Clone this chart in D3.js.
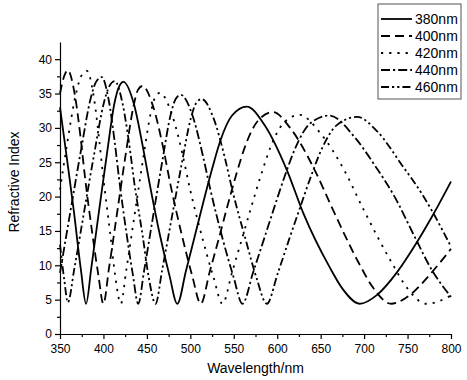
<!DOCTYPE html>
<html>
<head>
<meta charset="utf-8">
<script src="https://cdn.jsdelivr.net/npm/d3@7"></script>
<style>
  body { margin: 0; background: #fff; }
  svg { font-family: Arial, "Liberation Sans", sans-serif; }
</style>
</head>
<body>
<div id="chart"></div>
<script>
// series values: [wavelength nm, refractive index]
const s380 = [[350,33.0],[358,25.5],[366,17.8],[374,9.4],[380,4.4],[386,9.6],[395,18.0],[404,26.2],[413,33.8],[418,36.0],[423,36.7],[435,33.5],[445,27.5],[453,22.0],[465,14.4],[476,8.5],[485,4.4],[495,9.2],[505,14.2],[515,19.2],[525,24.0],[535,28.3],[548,31.8],[565,33.1],[585,30.5],[611,23.9],[630,17.6],[660,9.8],[675,6.6],[695,4.4],[715,5.7],[738,9.0],[760,13.2],[780,17.5],[800,22.2]];
const s400 = [[350,35.0],[355,37.6],[359,38.4],[366.8,35.0],[373.6,28.7],[378.7,22.9],[386.9,14.9],[394,8.7],[400,4.4],[406.3,9.5],[415.8,17.7],[425.2,25.8],[434.7,33.2],[439.6,35.5],[445,36.1],[457.7,32.9],[468.8,27.1],[477.2,21.7],[490.6,14.2],[502.3,8.4],[512,4.4],[522.4,9.1],[532.8,13.9],[543.1,18.8],[553.5,23.5],[563.9,27.6],[577.6,31.0],[595,32.3],[616,29.8],[643,23.9],[663,18.4],[694,10.3],[710,6.8],[731,4.4],[752,5.6],[776,8.7],[800,12.4]];
const s420 = [[350,21.0],[357.7,27.3],[368.8,35.2],[374.6,37.6],[381,38.3],[388.4,34.9],[394.8,28.6],[399.7,22.9],[407.5,14.9],[413.3,8.7],[420,4.4],[426.3,9.3],[435.8,17.3],[445.2,25.1],[454.7,32.3],[459.6,34.5],[465,35.1],[478.7,32.0],[490.6,26.4],[499.6,21.1],[514,13.9],[526.6,8.3],[537,4.4],[548.1,9.0],[559.3,13.8],[570.4,18.6],[581.5,23.2],[592.6,27.3],[607.3,30.7],[626,31.9],[648.5,29.4],[677.7,23.7],[699,18.2],[732.6,10.2],[749.5,6.7],[772,4.4],[800,5.6]];
const s440 = [[350,8.9],[362.6,18.3],[374.1,26.7],[385.5,34.4],[391.5,36.7],[398,37.4],[406,34.1],[412.9,28.0],[418.2,22.4],[426.6,14.6],[433.9,8.6],[440,4.4],[446.9,9.3],[457.2,17.2],[467.4,24.9],[477.7,32.1],[483.1,34.2],[489,34.8],[502.5,31.8],[514.2,26.1],[523.1,21.0],[537.3,13.8],[549.7,8.3],[560,4.4],[572.3,9.0],[584.5,13.7],[596.8,18.5],[609,23.1],[621.3,27.2],[637.4,30.6],[660,31.8],[690,28.5],[712,24.6],[735,20.0],[758,14.2],[778,9.3],[800,5.4]];
const s460 = [[350,13.0],[355,7.8],[359,4.6],[366.6,9.6],[377.9,17.9],[389.2,26.1],[400.6,33.7],[406.5,36.0],[413,36.8],[421.9,33.6],[429.7,27.6],[435.4,22.1],[445,14.4],[451.8,8.5],[460,4.4],[467.4,9.2],[478.6,16.9],[489.7,24.5],[500.8,31.5],[506.6,33.6],[513,34.2],[527.3,31.2],[539.6,25.7],[549,20.6],[564,13.6],[576.1,8.2],[588,4.4],[600.8,8.9],[613.5,13.7],[626.3,18.4],[639,23.0],[651.8,27.1],[668.6,30.4],[692,31.6],[715,29.5],[744,24.5],[766,20.5],[780,17.5],[800,12.7]];

const seriesNames = ["380nm", "400nm", "420nm", "440nm", "460nm"];
const seriesData = [s380, s400, s420, s440, s460];
const dashes = ["none", "9,5", "2.2,6", "9,3,2.2,3", "8,3,2.2,3,2.2,3"];

const xTicks = [350, 400, 450, 500, 550, 600, 650, 700, 750, 800];
const yTicks = [0, 5, 10, 15, 20, 25, 30, 35, 40];

const W = 467, H = 380;
const margin = { top: 42, right: 16, bottom: 46, left: 60 };

const svg = d3.select("#chart").append("svg")
  .attr("width", W)
  .attr("height", H);

const x = d3.scaleLinear().domain([350, 800]).range([margin.left, W - margin.right]);
const y = d3.scaleLinear().domain([0, 42.5]).range([H - margin.bottom, margin.top]);

// minor ticks
const xMinor = d3.range(375, 800, 50);
const yMinor = d3.range(2.5, 42.5, 5);

svg.append("g")
  .attr("transform", `translate(0,${y(0)})`)
  .call(d3.axisBottom(x).tickValues(xMinor).tickSize(3).tickFormat(""))
  .call(g => g.select(".domain").remove());
svg.append("g")
  .attr("transform", `translate(${x(350)},0)`)
  .call(d3.axisLeft(y).tickValues(yMinor).tickSize(3).tickFormat(""))
  .call(g => g.select(".domain").remove());

// main axes
svg.append("g")
  .attr("transform", `translate(0,${y(0)})`)
  .call(d3.axisBottom(x).tickValues(xTicks).tickSize(5).tickSizeOuter(0).tickPadding(5))
  .call(g => g.selectAll("text").style("font-size", "12px").attr("fill", "#000"));
svg.append("g")
  .attr("transform", `translate(${x(350)},0)`)
  .call(d3.axisLeft(y).tickValues(yTicks).tickSize(5).tickSizeOuter(0).tickPadding(3))
  .call(g => g.selectAll("text").style("font-size", "12px").attr("fill", "#000"));

svg.selectAll(".domain, .tick line").attr("stroke", "#000").attr("stroke-width", 1.2);

// curves
const line = d3.line()
  .x(d => x(d[0]))
  .y(d => y(d[1]))
  .curve(d3.curveMonotoneX);

seriesData.forEach((s, i) => {
  svg.append("path")
    .datum(s)
    .attr("fill", "none")
    .attr("stroke", "#000")
    .attr("stroke-width", 1.8)
    .attr("stroke-dasharray", dashes[i])
    .attr("d", line);
});

// axis titles
svg.append("text")
  .attr("x", (x(350) + x(800)) / 2)
  .attr("y", 373)
  .attr("text-anchor", "middle")
  .style("font-size", "14px")
  .text("Wavelength/nm");

svg.append("text")
  .attr("transform", "translate(19,182) rotate(-90)")
  .attr("text-anchor", "middle")
  .style("font-size", "14px")
  .text("Refractive Index");

// legend
const legend = svg.append("g");
legend.append("rect")
  .attr("x", 378).attr("y", 4)
  .attr("width", 83).attr("height", 95)
  .attr("fill", "#fff")
  .attr("stroke", "#555");

seriesNames.forEach((name, i) => {
  const ly = 19 + i * 17;
  legend.append("line")
    .attr("x1", 381).attr("x2", 412)
    .attr("y1", ly).attr("y2", ly)
    .attr("stroke", "#000")
    .attr("stroke-width", 1.8)
    .attr("stroke-dasharray", dashes[i]);
  legend.append("text")
    .attr("x", 415).attr("y", ly + 5)
    .style("font-size", "14px")
    .text(name);
});
</script>
</body>
</html>
